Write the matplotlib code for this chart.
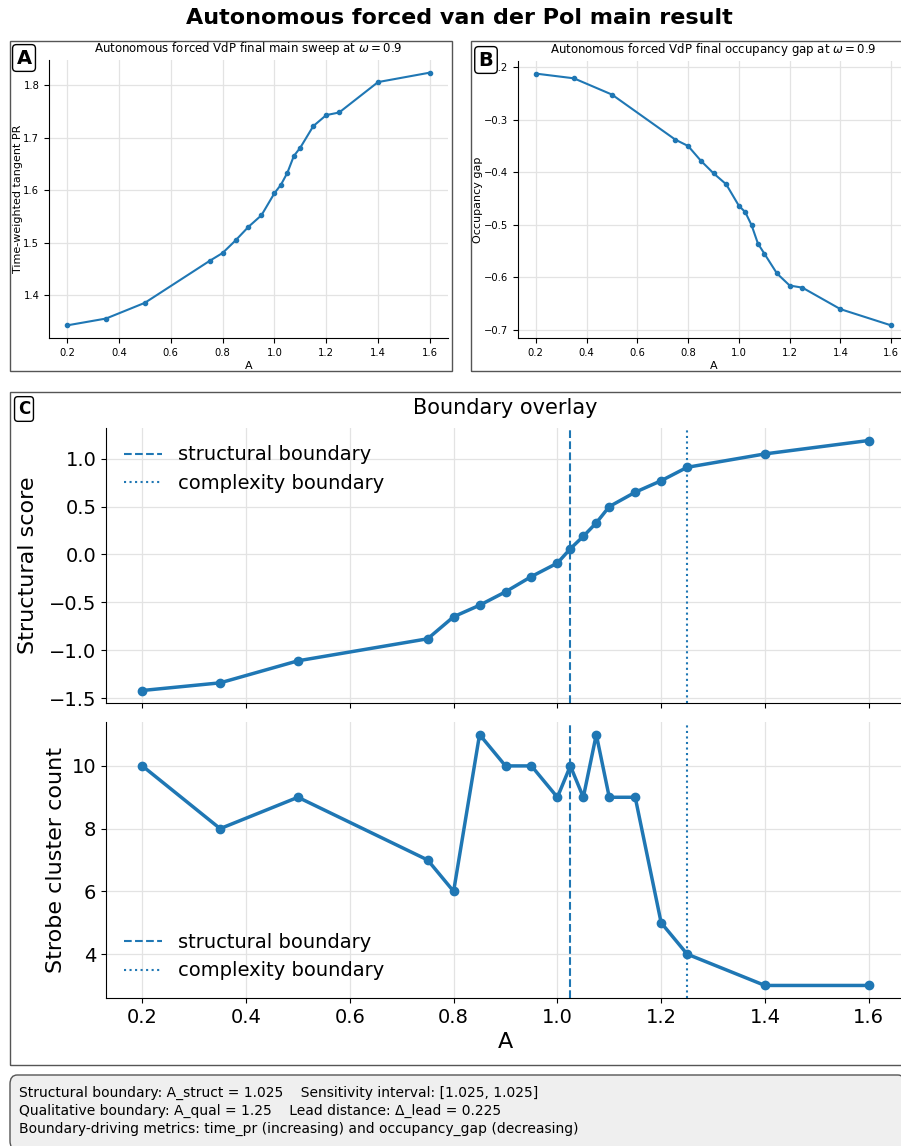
import numpy as np
import matplotlib
matplotlib.use("Agg")
import matplotlib.pyplot as plt
from matplotlib.patches import Rectangle, FancyBboxPatch

# sweep data
A_vals = [0.2, 0.35, 0.5, 0.75, 0.8, 0.85, 0.9, 0.95, 1.0, 1.025, 1.05, 1.075, 1.1, 1.15, 1.2, 1.25, 1.4, 1.6]
time_pr = [1.342, 1.355, 1.385, 1.465, 1.480, 1.504, 1.530, 1.552, 1.594, 1.610, 1.633, 1.665, 1.681,
           1.722, 1.743, 1.748, 1.806, 1.824]
occ_gap = [-0.212, -0.221, -0.252, -0.338, -0.350, -0.378, -0.402, -0.423, -0.464, -0.476, -0.501, -0.536,
           -0.555, -0.593, -0.616, -0.620, -0.661, -0.692]
struct_score = [-1.42, -1.34, -1.11, -0.88, -0.65, -0.53, -0.39, -0.23, -0.09, 0.06, 0.19, 0.33, 0.50,
                0.65, 0.77, 0.91, 1.05, 1.19]
strobe_count = [10, 8, 9, 7, 6, 11, 10, 10, 9, 10, 9, 11, 9, 9, 5, 4, 3, 3]
x_ticks = [0.2, 0.4, 0.6, 0.8, 1.0, 1.2, 1.4, 1.6]

A_struct = 1.025
A_qual = 1.25
BLUE = '#1f77b4'

W, H = 901, 1146
fig = plt.figure(figsize=(W / 100, H / 100), dpi=100)


def fx(px):
    return px / W


def fy(py):
    return 1 - py / H


def add_axes(l, t, r, b):
    return fig.add_axes([fx(l), fy(b), fx(r) - fx(l), fy(t) - fy(b)])


def style(ax, size):
    for s in ['top', 'right']:
        ax.spines[s].set_visible(False)
    ax.grid(True, color='#e3e3e3', lw=0.9)
    ax.set_axisbelow(True)
    ax.tick_params(labelsize=size)


def panel_frame(l, t, r, b):
    fig.patches.append(Rectangle((fx(l), fy(b)), fx(r) - fx(l), fy(t) - fy(b), transform=fig.transFigure,
                                 fill=False, ec='#555555', lw=1.0))


def panel_label(x, y, text, size=14):
    fig.text(fx(x), fy(y), text, fontsize=size, fontweight='bold', ha='center', va='center',
             bbox=dict(boxstyle='round,pad=0.2', fc='white', ec='black', lw=1.0))


fig.text(0.51, fy(18), 'Autonomous forced van der Pol main result', fontsize=16, fontweight='bold',
         ha='center', va='center')

# panel frames
panel_frame(10, 41, 452, 371)
panel_frame(471, 41, 905, 371)
panel_frame(10, 392, 905, 1065)

# A
axA = add_axes(49, 60, 448, 338)
axA.plot(A_vals, time_pr, '-o', color=BLUE, lw=1.5, ms=3)
style(axA, 7.2)
axA.set_xticks(x_ticks)
axA.set_xlabel('A', fontsize=8, labelpad=2)
axA.set_ylabel('Time-weighted tangent PR', fontsize=8, labelpad=0.5)
axA.set_title(r'Autonomous forced VdP final main sweep at $\omega = 0.9$', fontsize=8.5, pad=6)

# B
axB = add_axes(518, 61, 909, 338)
axB.plot(A_vals, occ_gap, '-o', color=BLUE, lw=1.5, ms=3)
style(axB, 7.2)
axB.set_xticks(x_ticks)
axB.set_xlabel('A', fontsize=8, labelpad=2)
axB.set_ylabel('Occupancy gap', fontsize=8, labelpad=0.5)
axB.set_title(r'Autonomous forced VdP final occupancy gap at $\omega = 0.9$', fontsize=8.5, pad=6)

# C top
axC1 = add_axes(106, 428, 905, 703)
axC1.plot(A_vals, struct_score, '-o', color=BLUE, lw=2.5, ms=6)
axC1.axvline(A_struct, color=BLUE, ls='--', lw=1.5, label='structural boundary')
axC1.axvline(A_qual, color=BLUE, ls=':', lw=1.5, label='complexity boundary')
style(axC1, 14)
axC1.set_xticks(x_ticks)
axC1.tick_params(labelbottom=False)
axC1.set_ylabel('Structural score', fontsize=16, labelpad=8)
axC1.set_title('Boundary overlay', fontsize=15, pad=10)
axC1.legend(loc='upper left', fontsize=14, frameon=False)

# C bottom
axC2 = add_axes(106, 722, 905, 998)
axC2.plot(A_vals, strobe_count, '-o', color=BLUE, lw=2.5, ms=6)
axC2.axvline(A_struct, color=BLUE, ls='--', lw=1.5, label='structural boundary')
axC2.axvline(A_qual, color=BLUE, ls=':', lw=1.5, label='complexity boundary')
style(axC2, 14)
axC2.set_xticks(x_ticks)
axC2.set_xlim(axC1.get_xlim())
axC2.set_xlabel('A', fontsize=16)
axC2.set_ylabel('Strobe cluster count', fontsize=16)
axC2.legend(loc='lower left', fontsize=14, frameon=False)

panel_label(24, 58, 'A')
panel_label(486, 60, 'B')
panel_label(24, 409, 'C', size=12)

# summary box
fig.patches.append(FancyBboxPatch((fx(10), fy(1150)), fx(905) - fx(10), fy(1075) - fy(1150),
                                  boxstyle='round,pad=0,rounding_size=0.008', transform=fig.transFigure,
                                  fc='#efefef', ec='#555555', lw=1.0))
summary = ("Structural boundary: A_struct = 1.025    Sensitivity interval: [1.025, 1.025]\n"
           "Qualitative boundary: A_qual = 1.25    Lead distance: \u0394_lead = 0.225\n"
           "Boundary-driving metrics: time_pr (increasing) and occupancy_gap (decreasing)")
fig.text(fx(19), fy(1111), summary, fontsize=10, ha='left', va='center', linespacing=1.35)

fig.savefig('out.png', dpi=100)
